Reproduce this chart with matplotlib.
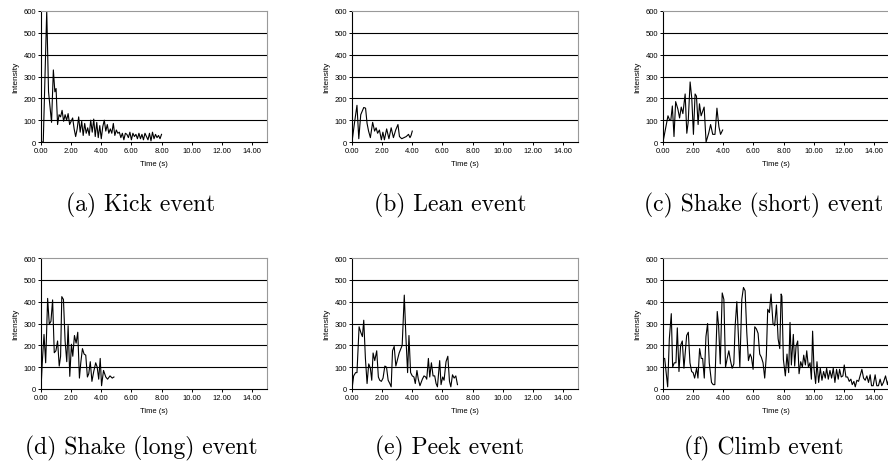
import matplotlib
matplotlib.use("Agg")
import matplotlib.pyplot as plt

# time (s) and intensity
kick_t = [0.0, 0.15, 0.38, 0.5, 0.7, 0.82, 0.92, 1.0,
          1.1, 1.2, 1.3, 1.4, 1.5, 1.6, 1.7, 1.8, 1.9, 2.0,
          2.1, 2.2, 2.3, 2.4, 2.5, 2.6, 2.7, 2.8, 2.9, 3.0,
          3.1, 3.2, 3.3, 3.4, 3.5, 3.6, 3.7, 3.8, 3.9, 4.0,
          4.1, 4.2, 4.3, 4.4, 4.5, 4.6, 4.7, 4.8, 4.9, 5.0,
          5.1, 5.2, 5.3, 5.4, 5.5, 5.6, 5.7, 5.8, 5.9, 6.0,
          6.1, 6.2, 6.3, 6.4, 6.5, 6.6, 6.7, 6.8, 6.9, 7.0,
          7.1, 7.2, 7.3, 7.4, 7.5, 7.6, 7.7, 7.8, 7.9, 8.0]
kick_v = [0, 0, 600, 230, 90, 330, 230, 245,
          80, 125, 115, 145, 95, 125, 100, 130, 80, 95,
          110, 60, 25, 60, 115, 45, 95, 30, 85, 40,
          65, 30, 100, 45, 105, 25, 90, 20, 75, 15,
          70, 100, 50, 80, 40, 60, 40, 85, 30, 55,
          40, 45, 20, 40, 10, 40, 35, 20, 45, 10,
          40, 25, 35, 15, 40, 15, 35, 10, 40, 25,
          10, 40, 5, 45, 15, 35, 20, 30, 15, 35]

lean_t = [0.0, 0.15, 0.33, 0.45, 0.58, 0.78, 0.9, 1.0, 1.1, 1.22,
          1.37, 1.5, 1.6, 1.7, 1.82, 1.95, 2.05, 2.15, 2.3, 2.45,
          2.6, 2.75, 2.9, 3.05, 3.15, 3.3, 3.45, 3.6, 3.75, 3.85,
          3.92, 4.0]
lean_v = [0, 80, 168, 15, 125, 158, 155, 85, 50, 20,
          90, 50, 65, 40, 55, 10, 45, 10, 60, 15,
          65, 20, 55, 80, 25, 15, 20, 25, 35, 20,
          30, 50]

short_t = [0.0, 0.33, 0.44, 0.52, 0.62, 0.73, 0.84, 0.99, 1.1, 1.21,
           1.32, 1.47, 1.58, 1.67, 1.8, 1.91, 2.02, 2.13, 2.22, 2.33,
           2.42, 2.53, 2.73, 2.86, 3.03, 3.16, 3.3, 3.45, 3.58, 3.71,
           3.82, 3.96]
short_v = [0, 120, 100, 100, 165, 25, 185, 150, 110, 160,
           130, 220, 40, 90, 275, 200, 35, 220, 210, 80,
           175, 120, 160, 0, 40, 80, 35, 35, 155, 70,
           35, 55]

long_t = [0.0, 0.09, 0.2, 0.31, 0.44, 0.55, 0.66, 0.77, 0.88, 0.99,
          1.1, 1.21, 1.3, 1.38, 1.49, 1.6, 1.71, 1.8, 1.91, 2.02,
          2.11, 2.22, 2.33, 2.44, 2.55, 2.64, 2.75, 2.86, 2.97, 3.08,
          3.17, 3.27, 3.38, 3.5, 3.63, 3.73, 3.83, 3.93, 4.02, 4.15,
          4.3, 4.42, 4.58, 4.73, 4.84]
long_v = [0, 128, 250, 120, 415, 297, 310, 408, 166, 175,
          220, 105, 150, 423, 410, 220, 125, 290, 58, 205,
          150, 245, 210, 260, 50, 120, 185, 160, 155, 55,
          70, 125, 35, 80, 120, 100, 45, 140, 15, 85,
          55, 45, 60, 50, 55]

peek_t = [0.0, 0.11, 0.24, 0.33, 0.47, 0.58, 0.69, 0.78, 0.89, 1.0,
          1.11, 1.22, 1.31, 1.4, 1.51, 1.64, 1.75, 1.84, 1.95, 2.06,
          2.18, 2.29, 2.4, 2.51, 2.6, 2.69, 2.8, 2.91, 3.02, 3.13,
          3.33, 3.47, 3.58, 3.69, 3.78, 3.89, 4.0, 4.11, 4.2, 4.31,
          4.4, 4.51, 4.67, 4.78, 4.89, 4.96, 5.07, 5.16, 5.27, 5.38,
          5.49, 5.58, 5.67, 5.82, 5.91, 6.02, 6.11, 6.24, 6.36, 6.47,
          6.56, 6.67, 6.78, 6.89, 7.0]
peek_v = [0, 60, 75, 75, 285, 260, 240, 315, 140, 25,
          115, 95, 40, 165, 130, 175, 55, 40, 35, 50,
          105, 100, 40, 25, 10, 175, 195, 105, 135, 165,
          200, 430, 235, 75, 245, 75, 60, 55, 25, 85,
          45, 15, 45, 60, 55, 45, 140, 55, 120, 60,
          60, 25, 10, 130, 20, 55, 40, 125, 150, 35,
          10, 65, 50, 60, 20]

climb_t = [0.0, 0.11, 0.31, 0.42, 0.55, 0.64, 0.75, 0.86, 0.95, 1.06,
           1.17, 1.28, 1.39, 1.57, 1.68, 1.79, 1.9, 2.0, 2.1, 2.23,
           2.32, 2.43, 2.54, 2.63, 2.74, 2.85, 2.96, 3.07, 3.22, 3.33,
           3.44, 3.6, 3.69, 3.8, 3.93, 4.04, 4.15, 4.26, 4.37, 4.48,
           4.59, 4.7, 4.79, 4.9, 5.1, 5.23, 5.34, 5.45, 5.56, 5.67,
           5.78, 5.87, 5.98, 6.09, 6.2, 6.31, 6.42, 6.53, 6.64, 6.75,
           6.86, 6.95, 7.06, 7.17, 7.3, 7.41, 7.53, 7.64, 7.75, 7.84,
           7.89, 7.99, 8.12, 8.23, 8.34, 8.43, 8.52, 8.65, 8.74, 8.83,
           8.94, 9.03, 9.14, 9.25, 9.34, 9.45, 9.54, 9.65, 9.76, 9.85,
           9.93, 10.02, 10.13, 10.22, 10.33, 10.44, 10.55, 10.66, 10.77, 10.86,
           10.97, 11.08, 11.19, 11.3, 11.41, 11.52, 11.63, 11.72, 11.83, 11.94,
           12.03, 12.14, 12.25, 12.36, 12.47, 12.56, 12.67, 12.76, 12.87, 12.98,
           13.2, 13.31, 13.42, 13.53, 13.64, 13.75, 13.84, 13.95, 14.08, 14.19,
           14.3, 14.41, 14.52, 14.63, 14.77, 14.9, 15.0]
climb_v = [140, 140, 10, 230, 345, 100, 120, 120, 280, 80,
           200, 220, 95, 245, 260, 120, 80, 75, 50, 95,
           50, 185, 140, 140, 50, 240, 300, 120, 30, 20,
           20, 355, 290, 115, 440, 410, 100, 140, 175, 130,
           95, 115, 290, 400, 100, 410, 465, 450, 260, 130,
           160, 145, 90, 285, 275, 255, 160, 145, 120, 50,
           155, 365, 350, 435, 300, 290, 385, 230, 185, 435,
           425, 135, 60, 160, 75, 305, 110, 250, 105, 195,
           220, 70, 125, 100, 155, 110, 175, 100, 120, 45,
           265, 95, 25, 125, 30, 95, 40, 80, 50, 95,
           45, 85, 50, 95, 30, 90, 45, 90, 55, 60,
           110, 55, 55, 35, 45, 20, 35, 10, 40, 35,
           90, 50, 40, 60, 30, 65, 15, 15, 65, 15,
           15, 45, 15, 30, 60, 20, 50]

series = [(kick_t, kick_v), (lean_t, lean_v), (short_t, short_v),
          (long_t, long_v), (peek_t, peek_v), (climb_t, climb_v)]
captions = ["(a) Kick event", "(b) Lean event", "(c) Shake (short) event",
            "(d) Shake (long) event", "(e) Peek event", "(f) Climb event"]

xticks = [0, 2, 4, 6, 8, 10, 12, 14]
xtick_labels = ["0.00", "2.00", "4.00", "6.00", "8.00", "10.00", "12.00", "14.00"]
yticks = [0, 100, 200, 300, 400, 500, 600]

W, H = 888, 464
fig = plt.figure(figsize=(W / 100, H / 100), dpi=100)

lefts = [41, 352, 663]
tops = [12, 259]
aw, ah = 226, 131
cap_x = [141, 450, 764]
cap_y = [211, 454]

for k, (t, v) in enumerate(series):
    r, c = divmod(k, 3)
    ax = fig.add_axes([lefts[c] / W, 1 - (tops[r] + ah) / H, aw / W, ah / H])
    ax.plot(t, v, color="black", lw=0.8)
    ax.set_xlim(0, 15)
    ax.set_ylim(0, 600)
    ax.set_xticks(xticks)
    ax.set_xticklabels(xtick_labels)
    ax.set_yticks(yticks)
    for y in yticks[1:-1]:
        ax.axhline(y, color="black", lw=0.8, zorder=0)
    ax.spines["left"].set_color("black")
    ax.spines["bottom"].set_color("black")
    ax.spines["top"].set_color("#999999")
    ax.spines["right"].set_color("#999999")
    for s in ax.spines.values():
        s.set_linewidth(0.8)
    ax.tick_params(direction="out", length=2, width=0.7, pad=1.5,
                   labelsize=5.5)
    for lab in ax.get_xticklabels() + ax.get_yticklabels():
        lab.set_family("Liberation Sans")
    ax.set_xlabel("Time (s)", fontsize=5.5, family="Liberation Sans", labelpad=4.5)
    ax.set_ylabel("Intensity", fontsize=6, family="Liberation Sans", labelpad=3)
    fig.text(cap_x[c] / W, 1 - cap_y[r] / H, captions[k], ha="center",
             va="baseline", fontsize=17, family="cmr10")

fig.savefig("out.png", dpi=100)
